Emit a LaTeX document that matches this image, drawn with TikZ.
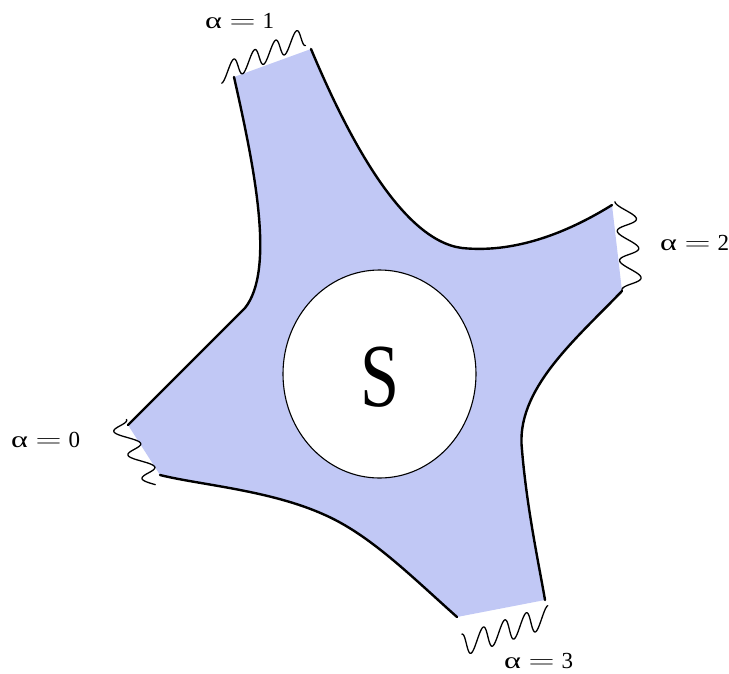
\documentclass[tikz,border=0pt]{standalone}
\usepackage{graphicx}
\usepackage{fontspec}
\setmainfont{Liberation Serif}
\usetikzlibrary{shapes.geometric}
\definecolor{blobblue}{RGB}{193,200,245}
\newcommand\alab[1]{\scalebox{1.4}[1]{α}\hspace{7.5pt}\scalebox{1.45}[1]{$=$}\hspace{7pt}#1}
% wavy end: start centre (#1,#2), end centre (#3,#4), periods #5, amplitude #6, phase #7, shear #8
\newcommand\wavy[8]{%
  \pgfmathsetmacro\wdx{(#3)-(#1)}%
  \pgfmathsetmacro\wdy{(#4)-(#2)}%
  \pgfmathsetmacro\wL{veclen(\wdx,\wdy)}%
  \pgfmathsetmacro\wux{\wdx/\wL}%
  \pgfmathsetmacro\wuy{\wdy/\wL}%
  \draw[wave] plot[domain=0:1, samples=200, smooth, variable=\t]
   ({(#1) + (\t*\wL + (#8)*(#6)*cos((#5)*360*\t+(#7)))*\wux - (#6)*cos((#5)*360*\t+(#7))*\wuy},
    {(#2) + (\t*\wL + (#8)*(#6)*cos((#5)*360*\t+(#7)))*\wuy + (#6)*cos((#5)*360*\t+(#7))*\wux});
}
\begin{document}
\begin{tikzpicture}[x=1pt, y=-1pt,
  edge/.style={line width=2.4pt, line cap=round},
  wave/.style={line width=1.3pt, line cap=round, line join=round},
  lab/.style={font=\fontsize{23}{23}\selectfont, inner sep=0pt, anchor=base west}]
\useasboundingbox (0,0) rectangle (729,673);
\coordinate (A) at (234,77);
\coordinate (B) at (311,49);
\coordinate (C) at (612,205);
\coordinate (D) at (622,291);
\coordinate (E) at (545,600);
\coordinate (F) at (457,617);
\coordinate (G) at (160,475);
\coordinate (H) at (128,425);
\coordinate (K) at (245,308);
\coordinate (M1) at (462,248);
\coordinate (M2) at (522,450);
\coordinate (M3) at (325,515);
% body
\fill[blobblue] (A) -- (B) .. controls (345,130) and (400,240) .. (M1)
  .. controls (520,254) and (575,228) .. (C) -- (D)
  .. controls (575,340) and (515,390) .. (M2)
  .. controls (527,510) and (540,570) .. (E) -- (F)
  .. controls (410,575) and (370,535) .. (M3)
  .. controls (270,490) and (200,485) .. (G) -- (H) -- (K)
  .. controls (275,270) and (255,170) .. (A) -- cycle;
% black edges
\draw[edge] (B) .. controls (345,130) and (400,240) .. (M1)
  .. controls (520,254) and (575,228) .. (C);
\draw[edge] (D) .. controls (575,340) and (515,390) .. (M2)
  .. controls (527,510) and (540,570) .. (E);
\draw[edge] (F) .. controls (410,575) and (370,535) .. (M3)
  .. controls (270,490) and (200,485) .. (G);
\draw[edge] (H) -- (K) .. controls (275,270) and (255,170) .. (A);
% wavy ends
\wavy{222.5}{73.5}{306.3}{35.7}{4}{8.5}{0}{-0.55}
\wavy{625.1}{202.9}{632.1}{291.2}{3}{10}{0}{-0.2}
\wavy{461}{645.5}{547}{617}{4}{10.5}{180}{-0.42}
\wavy{116.7}{419.8}{155.5}{484.7}{2.75}{8.5}{180}{-0.55}
% hole
\node[draw, ellipse, fill=white, line width=1.1pt, inner sep=0pt,
  minimum width=193pt, minimum height=208pt] (hole) at (379.5,374) {};
\node[inner sep=0pt, font=\fontsize{90}{90}\selectfont] (S) at (380,377) {\scalebox{0.78}[1]{S}};
% labels
\node[lab] (l1) at (205,28) {\alab{1}};
\node[lab] (l2) at (660,250) {\alab{2}};
\node[lab] (l0) at (11,447) {\alab{0}};
\node[lab] (l3) at (504,668) {\alab{3}};
\end{tikzpicture}
\end{document}
